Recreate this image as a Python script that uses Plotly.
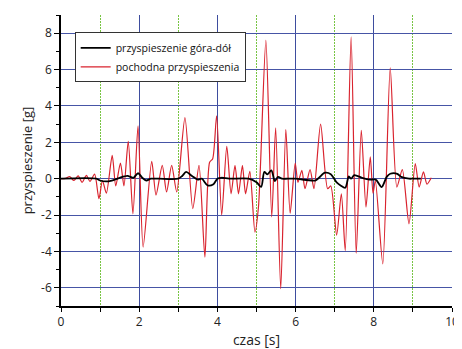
import plotly.graph_objects as go

# red: pochodna przyspieszenia
t_red = [0, 0.12, 0.22, 0.33, 0.44, 0.54, 0.65, 0.74, 0.86, 0.97, 1.06, 1.16, 1.31, 1.40, 1.52, 1.61,
         1.72, 1.84, 1.97, 2.10, 2.32, 2.43, 2.59, 2.70, 2.83, 2.96, 3.17, 3.37, 3.53, 3.68, 3.80, 3.88,
         3.98, 4.11, 4.24, 4.35, 4.45, 4.54, 4.64, 4.72, 4.83, 4.96, 5.05, 5.24, 5.39, 5.49, 5.62, 5.75,
         5.86, 5.99, 6.06, 6.16, 6.24, 6.37, 6.47, 6.64, 6.82, 6.90, 7.05, 7.17, 7.27, 7.42, 7.55, 7.68,
         7.80, 7.91, 7.98, 8.04, 8.23, 8.42, 8.59, 8.73, 8.90, 9.06, 9.16, 9.27, 9.36, 9.47]
v_red = [0, 0.02, 0.12, -0.1, 0.15, -0.2, 0.18, -0.15, 0.25, -1.1, -0.1, -0.8, 1.28, -0.4, 0.86, -0.4,
         2.05, -1.93, 2.9, -3.76, 0.95, -0.9, 0.73, -0.73, 0.73, -0.73, 3.36, -1.65, 0.73, -4.31, 0.9, 1.1,
         3.45, -2.0, 1.78, -0.83, 0.73, -0.83, 0.73, -0.83, 0.4, -2.94, -1.56, 7.6, -2.1, 2.8, -6.05, 2.7,
         -1.9, 0.86, -0.2, 0.46, -0.55, 0.5, -0.55, 3.0, -0.55, -0.4, -3.1, -0.83, -3.95, 7.8, -4.1, 2.66,
         -1.56, 1.2, -0.8, -0.1, -4.68, 6.1, -0.46, 0.5, -2.48, 0.83, -0.46, 0.37, -0.3, 0.05]

# black: przyspieszenie góra-dół
t_blk = [0, 0.9, 1.0, 1.15, 1.3, 1.5, 1.7, 1.85, 1.97, 2.08, 2.18, 2.3, 2.5, 3.0, 3.1, 3.2, 3.35, 3.5,
         3.6, 3.75, 3.9, 4.0, 4.1, 4.3, 4.8, 5.0, 5.12, 5.2, 5.28, 5.38, 5.47, 5.55, 5.65, 5.8, 6.0, 6.5,
         6.6, 6.75, 6.9, 7.05, 7.15, 7.27, 7.36, 7.42, 7.5, 7.7, 7.9, 8.05, 8.2, 8.33, 8.42, 8.6, 8.7,
         8.9, 9.0, 9.2]
v_blk = [0, 0, -0.1, -0.15, -0.1, 0.05, 0.15, 0.05, 0.3, 0.05, -0.1, 0, 0, 0, 0.15, 0.37, 0.15, -0.05,
         0, -0.37, -0.3, 0, 0.05, 0, 0, -0.2, -0.45, 0.37, 0.24, 0.46, -0.13, 0.1, 0, 0, 0, -0.1,
         0.05, 0.33, 0.25, -0.2, -0.37, -0.5, 0.13, 0, 0.2, 0.05, -0.05, -0.05, -0.46, 0.1, 0.27, 0.27, 0.1,
         0, 0, 0]

x_ticks = [0, 2, 4, 6, 8, 10]
x_tick_labels = ["0", "2", "4", "6", "8", "10"]
y_ticks = [-6, -4, -2, 0, 2, 4, 6, 8]
y_tick_labels = ["-6", "-4", "-2", "0", "2", "4", "6", "8"]

FONT = "Open Sans"
fig = go.Figure()
fig.add_trace(go.Scatter(x=t_red, y=v_red, mode="lines", name="pochodna przyspieszenia",
                         line=dict(color="#d9232e", width=1.2, shape="spline", smoothing=0.7),
                         legendrank=2))
fig.add_trace(go.Scatter(x=t_blk, y=v_blk, mode="lines", name="przyspieszenie góra-dół",
                         line=dict(color="black", width=1.8, shape="spline", smoothing=0.8),
                         legendrank=1))

# page body adds an 8px offset
fig.update_layout(
    width=462, height=341,
    margin=dict(l=53, r=18, t=7, b=43),
    paper_bgcolor="white", plot_bgcolor="white",
    font=dict(family=FONT, size=12, color="#222"),
    showlegend=True,
    legend=dict(x=0.035, y=0.94, xanchor="left", yanchor="top",
                bgcolor="white", bordercolor="#333", borderwidth=1,
                font=dict(family=FONT, size=10.5, color="#111"),
                tracegroupgap=0, itemwidth=30),
    xaxis=dict(range=[0, 10], tickvals=x_ticks, ticktext=x_tick_labels, automargin=False,
               ticklabeloverflow="allow",
               ticks="outside", ticklen=4, tickcolor="black", tickwidth=1,
               showline=True, linecolor="black", linewidth=1.5,
               showgrid=True, gridcolor="#3e4d9e", gridwidth=1, zeroline=False,
               minor=dict(dtick=1, tick0=0, ticks="outside", ticklen=4, tickcolor="black",
                          showgrid=True, gridcolor="#78c443", griddash="2px,1px", gridwidth=1),
               title=dict(text="czas [s]", font=dict(family=FONT, size=14, color="#222"), standoff=10),
               tickfont=dict(family=FONT, size=12, color="#222")),
    yaxis=dict(range=[-7, 9], tickvals=y_ticks, ticktext=y_tick_labels, automargin=False,
               ticks="outside", ticklen=5, tickcolor="black", tickwidth=1,
               showline=True, linecolor="black", linewidth=1.5,
               showgrid=True, gridcolor="#4655a6", gridwidth=1.2, zeroline=False,
               minor=dict(dtick=1, tick0=0, ticks="outside", ticklen=3, tickcolor="black", showgrid=False),
               title=dict(text="przyspieszenie [g]", font=dict(family=FONT, size=13, color="#222"), standoff=6),
               tickfont=dict(family=FONT, size=12, color="#222")),
)

fig.write_html("out.html")
